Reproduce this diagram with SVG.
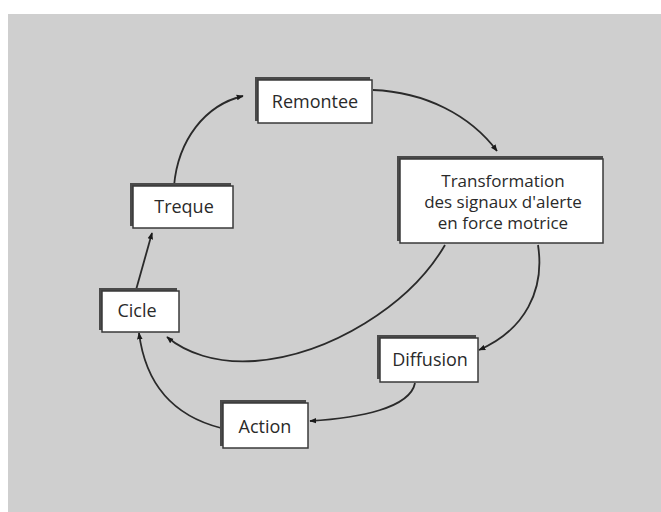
<svg xmlns="http://www.w3.org/2000/svg" width="661" height="512" viewBox="0 0 661 512">
<defs>
<style>
.bg{fill:#ffffff}
.panel{fill:#cfcfcf}
.shadow{fill:#4a4a4a}
.box{fill:#ffffff;stroke:#3a3a3a;stroke-width:1.5}
.lbl{font-family:"Open Sans","Noto Sans",sans-serif;font-size:18px;font-weight:500;fill:#2a2a2a;text-anchor:middle}
.small{font-size:17px}
.edge{fill:none;stroke:#2a2a2a;stroke-width:1.8}
</style>
<marker id="ah" viewBox="0 0 10 10" refX="9" refY="5" markerWidth="7" markerHeight="7" markerUnits="userSpaceOnUse" orient="auto">
<path d="M0,1 L10,5 L0,9 Z" fill="#1a1a1a"/>
</marker>
</defs>
<rect class="bg" x="0" y="0" width="661" height="512"/>
<rect class="panel" x="8" y="14" width="653" height="498"/>

<g id="connectors">
<path class="edge" marker-end="url(#ah)" d="M373,90 C425,92 470,115 497,151"/>
<path class="edge" marker-end="url(#ah)" d="M538,245 C545,290 525,330 479,350"/>
<path class="edge" marker-end="url(#ah)" d="M415,383 C410,408 360,418 310,421"/>
<path class="edge" marker-end="url(#ah)" d="M221,428 C170,415 145,380 139,333"/>
<path class="edge" marker-end="url(#ah)" d="M136,290 L152,233"/>
<path class="edge" marker-end="url(#ah)" d="M174,186 C178,140 205,105 243,96"/>
<path class="edge" marker-end="url(#ah)" d="M445,245 C410,305 330,355 255,361 C215,364 185,352 167,337"/>
</g>

<g id="remontee">
<rect class="shadow" x="255" y="77" width="115" height="44"/>
<rect class="box" x="258" y="80" width="114" height="43"/>
<text class="lbl" x="315" y="108">Remontee</text>
</g>

<g id="transformation">
<rect class="shadow" x="397" y="156" width="206" height="85"/>
<rect class="box" x="400" y="159" width="203" height="84"/>
<text class="lbl small" x="503" y="187">Transformation</text>
<text class="lbl small" x="503" y="208">des signaux d'alerte</text>
<text class="lbl small" x="503" y="229">en force motrice</text>
</g>

<g id="treque">
<rect class="shadow" x="130" y="183" width="101" height="43"/>
<rect class="box" x="133" y="186" width="100" height="42"/>
<text class="lbl" x="184" y="213">Treque</text>
</g>

<g id="cicle">
<rect class="shadow" x="99" y="288" width="78" height="42"/>
<rect class="box" x="102" y="291" width="77" height="41"/>
<text class="lbl" x="137" y="317">Cicle</text>
</g>

<g id="diffusion">
<rect class="shadow" x="377" y="335" width="99" height="44"/>
<rect class="box" x="380" y="338" width="98" height="44"/>
<text class="lbl" x="430" y="366">Diffusion</text>
</g>

<g id="action">
<rect class="shadow" x="220" y="400" width="86" height="46"/>
<rect class="box" x="223" y="403" width="85" height="45"/>
<text class="lbl" x="265" y="433">Action</text>
</g>
</svg>
